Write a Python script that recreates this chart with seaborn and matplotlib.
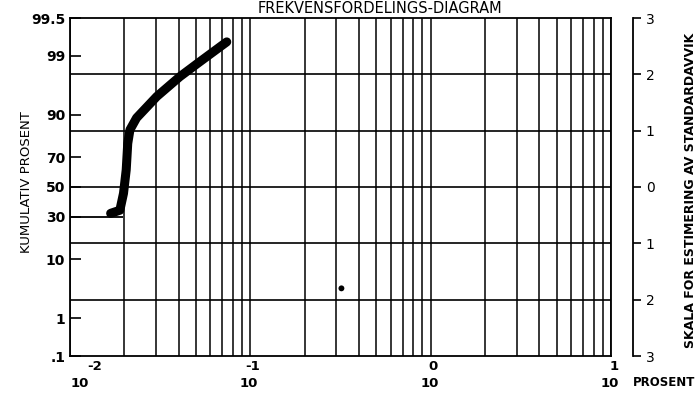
import matplotlib
matplotlib.use("Agg")
import matplotlib.pyplot as plt
from matplotlib.ticker import LogLocator, NullFormatter
import seaborn as sns
from statistics import NormalDist

# Kurven (lest av diagrammet)
konsentrasjon = [0.0168, 0.0189, 0.0198, 0.0205, 0.0209, 0.0215,
                 0.0234, 0.0303, 0.0407, 0.0526, 0.0740]
kum_prosent = [32.0, 34.0, 45.5, 62.0, 78.0, 84.5, 89.0, 94.6, 97.5, 98.7, 99.5]

# Kort hjelpelinje ved 30 % og en løs prikk
start_prosent = 30.0
start_slutt = 0.0197
prikk_x = [0.32]
prikk_prosent = [3.6]

# Akser
venstre_prosent = [1, 10, 30, 50, 70, 90, 99]
venstre_tekst = ["1", "10", "30", "50", "70", "90", "99"]
hoyre_sd = [-3, -2, -1, 0, 1, 2, 3]
hoyre_tekst = ["3", "2", "1", "0", "1", "2", "3"]
dekader = [0.01, 0.1, 1, 10]
eksponent = ["-2", "-1", "0", "1"]

nd = NormalDist()


def probit(p):
    return nd.inv_cdf(p / 100.0)


sns.set_style("white")
plt.rcParams["font.family"] = ["DejaVu Sans"]
plt.rcParams["text.color"] = "black"
plt.rcParams["xtick.color"] = "black"
plt.rcParams["ytick.color"] = "black"

fig = plt.figure(figsize=(6.97, 3.93), dpi=100)
ax = fig.add_axes([70 / 697, 37 / 393, 541 / 697, 338 / 393])

ax.set_xscale("log")
ax.set_xlim(0.01, 10)
ax.set_ylim(-3, 3)

# vertikale rutenett (log)
ax.xaxis.set_major_locator(LogLocator(base=10))
ax.xaxis.set_minor_locator(LogLocator(base=10, subs=range(2, 10)))
ax.xaxis.set_minor_formatter(NullFormatter())
ax.grid(True, which="both", axis="x", color="black", linewidth=1.1)
ax.tick_params(axis="x", which="both", length=0, labelbottom=False)

# horisontale linjer ved hele standardavvik
for z in hoyre_sd[1:-1]:
    ax.axhline(z, color="black", linewidth=1.2, zorder=1)

# kurven
z_kurve = [probit(p) for p in kum_prosent]
sns.lineplot(x=konsentrasjon, y=z_kurve, ax=ax, sort=False, color="black",
             linewidth=6.5, solid_capstyle="round", solid_joinstyle="round",
             zorder=3)
ax.hlines(probit(start_prosent), 0.01, start_slutt, color="black",
          linewidth=1.3, zorder=2)
sns.scatterplot(x=prikk_x, y=[probit(p) for p in prikk_prosent], ax=ax,
                color="black", s=18, edgecolor="none", zorder=3)

# venstre akse
ax.set_yticks([-3] + [probit(p) for p in venstre_prosent] + [3])
ax.set_yticklabels([".1"] + venstre_tekst + ["99.5"], fontsize=10,
                   fontweight="bold")
ax.tick_params(axis="y", direction="in", length=8, width=1.2, pad=3.5,
               left=True, right=False, colors="black")

for s in ax.spines.values():
    s.set_color("black")
    s.set_linewidth(1.3)

# høyre skala
ax2 = ax.twinx()
ax2.set_ylim(-3, 3)
ax2.set_yticks(hoyre_sd)
ax2.set_yticklabels(hoyre_tekst, fontsize=10, fontweight="bold")
ax2.spines["right"].set_position(("outward", 16))
ax2.spines["right"].set_linewidth(1.3)
ax2.spines["right"].set_color("black")
for side in ["top", "bottom", "left"]:
    ax2.spines[side].set_visible(False)
ax2.tick_params(axis="y", direction="out", length=6, width=1.2, pad=3,
                right=True, colors="black")

# x-aksetekster (10 med eksponent)
for i, (d, e) in enumerate(zip(dekader, eksponent)):
    dx = 7 if i == 0 else -1
    ex = 11 if i == 0 else 3
    ax.annotate("10", xy=(d, 0), xycoords=("data", "axes fraction"),
                xytext=(dx, -19.5), textcoords="offset points",
                ha="center", va="center", fontsize=9.5, fontweight="bold")
    ax.annotate(e, xy=(d, 0), xycoords=("data", "axes fraction"),
                xytext=(dx + ex, -7.5), textcoords="offset points",
                ha="center", va="center", fontsize=9.5, fontweight="bold")

fig.text(633 / 697, 1 - 382 / 393, "PROSENT", ha="left", va="center",
         fontsize=8.5, fontweight="bold")
fig.text(380 / 697, 1 - 13 / 393, "FREKVENSFORDELINGS-DIAGRAM", ha="center",
         va="baseline", fontsize=10.5)
fig.text(27 / 697, 1 - 182 / 393, "KUMULATIV PROSENT", rotation=90,
         ha="center", va="center", fontsize=9.5)
fig.text(691 / 697, 1 - 190 / 393, "SKALA FOR ESTIMERING AV STANDARDAVVIK",
         rotation=90, ha="center", va="center", fontsize=9, fontweight="bold")

fig.savefig("out.png", dpi=100)
